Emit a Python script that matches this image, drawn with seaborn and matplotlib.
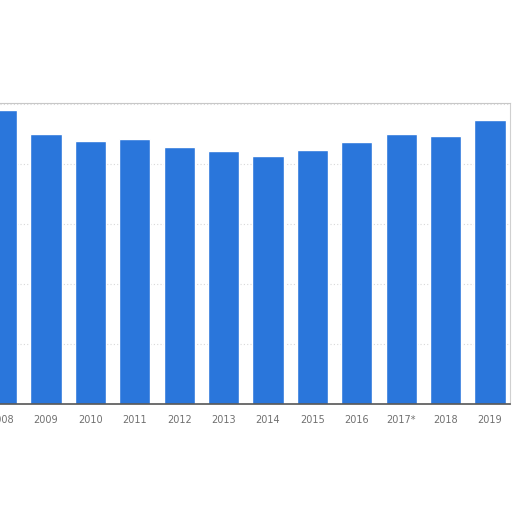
import pandas as pd
import matplotlib
matplotlib.use('Agg')
import matplotlib.pyplot as plt
import seaborn as sns

# Values (grid step = 1 unit)
years = ['2008', '2009', '2010', '2011', '2012', '2013', '2014', '2015',
         '2016', '2017*', '2018', '2019']
values = [4.90, 4.50, 4.39, 4.42, 4.28, 4.22, 4.14, 4.23, 4.37, 4.50, 4.47, 4.73]

df = pd.DataFrame({'Year': years, 'Value': values})

sns.set_style('white')
plt.rcParams['font.family'] = ['DejaVu Sans']

fig = plt.figure(figsize=(5.12, 5.12), dpi=100)
ax = fig.add_axes([0.0, 0.2109, 0.996, 0.5885])

sns.barplot(data=df, x='Year', y='Value', color='#2a76db', saturation=1,
            width=0.705, ax=ax)

ax.set_xlim(-0.036, 11.45)
ax.set_ylim(0, 5.02)
ax.set_yticks([1, 2, 3, 4, 5])
ax.set_yticklabels([])
ax.yaxis.grid(True, linestyle=(0, (1, 2)), color='#d8d8d8', linewidth=0.8)
ax.set_axisbelow(True)
ax.tick_params(axis='x', length=0, pad=8, labelsize=7, labelcolor='#707070')
ax.tick_params(axis='y', length=0)
ax.set_xlabel('')
ax.set_ylabel('')

ax.spines['left'].set_visible(False)
ax.spines['top'].set_color('#c8c8c8')
ax.spines['right'].set_color('#d0d0d0')
ax.spines['bottom'].set_color('#555555')
ax.spines['bottom'].set_linewidth(1.2)

plt.savefig('out.png', dpi=100)
